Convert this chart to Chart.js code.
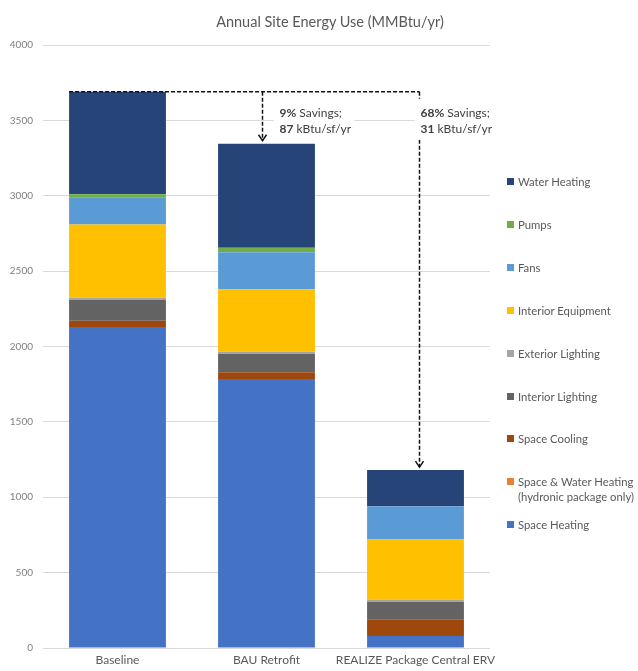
<!DOCTYPE html>
<html>
<head>
<meta charset="utf-8">
<script src="https://cdn.jsdelivr.net/npm/chart.js@4.4.1/dist/chart.umd.min.js"></script>
<style>
  body { margin: 0; background: #fff; font-family: Lato, "Open Sans", sans-serif; }
  #wrap { position: relative; width: 638px; height: 671px; }
  #title { position: absolute; top: 13px; left: 0; width: 660px; text-align: center;
           font-size: 14.5px; color: #595959; }
  #legend { position: absolute; left: 507px; top: 0; }
  .item { position: absolute; left: 0; white-space: nowrap; font-size: 11.3px; color: #595959; line-height: 15px; }
  .sw { display: inline-block; width: 7px; height: 7px; margin-right: 4px; vertical-align: 1px; }
  .l2 { padding-left: 11px; }
</style>
</head>
<body>
<div id="wrap">
  <canvas id="myChart" width="638" height="671"></canvas>
  <div id="title">Annual Site Energy Use (MMBtu/yr)</div>
  <div id="legend"></div>
</div>
<script>
const categories = ['Baseline', 'BAU Retrofit', 'REALIZE Package Central ERV'];

const spaceHeating = [2130, 1785, 80];
const spaceWaterHeating = [0, 0, 0];
const spaceCooling = [40, 45, 110];
const interiorLighting = [140, 120, 115];
const exteriorLighting = [15, 15, 15];
const interiorEquipment = [485, 415, 400];
const fans = [180, 245, 220];
const pumps = [20, 30, 0];
const waterHeating = [680, 690, 240];

const yMax = 4000;
const yStep = 500;

const savingsPct = ['9%', '68%'];
const savingsEui = ['87', '31'];

const data = {
    labels: categories,
    datasets: [
        { label: 'Space Heating', data: spaceHeating, backgroundColor: '#4472C4' },
        { label: ['Space & Water Heating', '(hydronic package only)'], data: spaceWaterHeating, backgroundColor: '#ED7D31' },
        { label: 'Space Cooling', data: spaceCooling, backgroundColor: '#9E480E' },
        { label: 'Interior Lighting', data: interiorLighting, backgroundColor: '#636363' },
        { label: 'Exterior Lighting', data: exteriorLighting, backgroundColor: '#A5A5A5' },
        { label: 'Interior Equipment', data: interiorEquipment, backgroundColor: '#FFC000' },
        { label: 'Fans', data: fans, backgroundColor: '#5B9BD5' },
        { label: 'Pumps', data: pumps, backgroundColor: '#70AD47' },
        { label: 'Water Heating', data: waterHeating, backgroundColor: '#264478' }
    ]
};

// dashed savings arrows + labels
const savingsPlugin = {
    id: 'savings',
    afterDatasetsDraw(chart) {
        const ctx = chart.ctx;
        const x = chart.scales.x, y = chart.scales.y;
        const n = chart.data.datasets.length;
        const totals = categories.map((c, i) =>
            chart.data.datasets.reduce((s, ds) => s + ds.data[i], 0));
        const topMeta = chart.getDatasetMeta(n - 1);
        const baseBar = topMeta.data[0];
        const yTop = y.getPixelForValue(totals[0]);
        const left = baseBar.x - baseBar.width / 2;
        const x1 = x.getPixelForValue(1) - 4;
        const x2 = x.getPixelForValue(2) + 4;

        ctx.save();
        ctx.strokeStyle = '#111';
        ctx.lineWidth = 1.5;
        ctx.setLineDash([4, 2]);
        ctx.beginPath();
        ctx.moveTo(left, yTop);
        ctx.lineTo(x2, yTop);
        ctx.stroke();

        [[x1, totals[1]], [x2, totals[2]]].forEach(([px, val]) => {
            const tip = y.getPixelForValue(val) - 3;
            ctx.setLineDash([4, 2]);
            ctx.beginPath();
            ctx.moveTo(px, yTop);
            ctx.lineTo(px, tip);
            ctx.stroke();
            ctx.setLineDash([]);
            ctx.beginPath();
            ctx.moveTo(px - 4, tip - 6);
            ctx.lineTo(px, tip);
            ctx.lineTo(px + 4, tip - 6);
            ctx.stroke();
        });

        // label boxes
        const boxes = [x1 + 11, x2 - 5];
        const widths = [81, 80];
        boxes.forEach((bx, i) => {
            ctx.fillStyle = '#fff';
            ctx.fillRect(bx, yTop + 7, widths[i], 41);
            ctx.textBaseline = 'middle';
            ctx.fillStyle = '#404040';
            const tx = bx + 6;
            ctx.font = 'bold 12px Lato';
            ctx.fillText(savingsPct[i], tx, yTop + 21);
            let w = ctx.measureText(savingsPct[i]).width;
            ctx.font = '12px Lato';
            ctx.fillText(' Savings;', tx + w, yTop + 21);
            ctx.font = 'bold 12px Lato';
            ctx.fillText(savingsEui[i], tx, yTop + 37);
            w = ctx.measureText(savingsEui[i]).width;
            ctx.font = '12px Lato';
            ctx.fillText(' kBtu/sf/yr', tx + w, yTop + 37);
        });
        ctx.restore();
    }
};

const config = {
    type: 'bar',
    data: data,
    options: {
        responsive: false,
        animation: false,
        layout: { padding: { top: 45, right: 148, left: 0, bottom: 0 } },
        datasets: { bar: { barPercentage: 0.65, categoryPercentage: 1 } },
        scales: {
            x: {
                stacked: true,
                grid: { display: false, drawTicks: false },
                border: { display: false },
                ticks: { color: '#595959', font: { family: 'Lato', size: 12 }, padding: 5, maxRotation: 0, autoSkip: false },
                afterFit(s) { s.height = 23; }
            },
            y: {
                stacked: true,
                min: 0,
                max: yMax,
                grid: { color: '#d9d9d9', drawTicks: false },
                border: { display: false },
                ticks: { stepSize: yStep, color: '#808080', font: { family: 'Lato', size: 10 }, padding: 10,
                         callback: v => String(v) },
                afterFit(s) { s.width = 43; }
            }
        },
        plugins: {
            legend: { display: false },
            tooltip: { enabled: false }
        }
    },
    plugins: [savingsPlugin]
};

const myChart = new Chart(document.getElementById('myChart'), config);

// html legend, top dataset first
const legendEl = document.getElementById('legend');
data.datasets.slice().reverse().forEach((ds, i) => {
    const div = document.createElement('div');
    div.className = 'item';
    div.style.top = (174 + i * 42.9) + 'px';
    const lines = Array.isArray(ds.label) ? ds.label : [ds.label];
    div.innerHTML = '<span class="sw" style="background:' + ds.backgroundColor + '"></span>' + lines[0] +
        lines.slice(1).map(l => '<div class="l2">' + l + '</div>').join('');
    legendEl.appendChild(div);
});
</script>
</body>
</html>
